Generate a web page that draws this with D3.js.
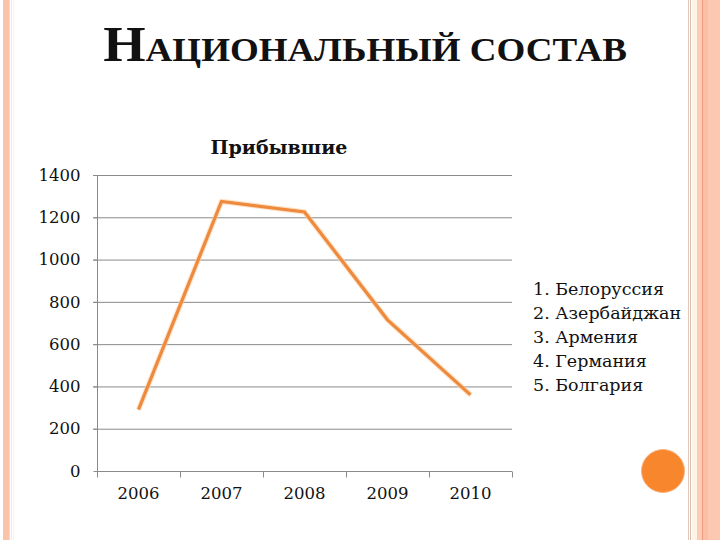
<!DOCTYPE html>
<html><head><meta charset="utf-8">
<script src="https://cdn.jsdelivr.net/npm/d3@7"></script>
<style>body{margin:0;background:#fff;}svg{display:block;}</style>
</head><body>
<script>
const years = ["2006","2007","2008","2009","2010"];
const arrivals = [290, 1275, 1225, 715, 360];
const yTicks = [0,200,400,600,800,1000,1200,1400];
const legendItems = ["1. Белоруссия","2. Азербайджан","3. Армения","4. Германия","5. Болгария"];
const chartTitle = "Прибывшие";

const W=720,H=540;
const svg=d3.select("body").append("svg").attr("width",W).attr("height",H);

// page border stripes
const stripes=[
 {x:3,w:6,c:"#fbc3aa"},{x:9,w:1,c:"#f2d9cc"},{x:11,w:1,c:"#efe6f0"},{x:13,w:1,c:"#fbf3e4"},
 {x:688,w:1,c:"#e2c8bc"},{x:690,w:1,c:"#d9c0b3"},{x:692,w:5,c:"#fdf4e8"},{x:697,w:5,c:"#fbcdb8"},
 {x:702,w:1,c:"#f09a7e"},{x:703,w:5,c:"#fbbfa6"},{x:708,w:12,c:"#fdc8b2"}
];
svg.selectAll("rect.stripe").data(stripes).join("rect").attr("class","stripe")
 .attr("x",d=>d.x).attr("y",0).attr("width",d=>d.w).attr("height",H).attr("fill",d=>d.c);

// main title with small caps, stretched to reference width
const tg=svg.append("g");
const t=tg.append("text").attr("x",0).attr("y",0).attr("text-anchor","middle")
 .attr("font-family","Liberation Serif").attr("font-weight","bold").attr("fill","#111");
t.append("tspan").attr("font-size",50).text("Н");
t.append("tspan").attr("font-size",34).text("АЦИОНАЛЬНЫЙ СОСТАВ");
const tl=t.node().getComputedTextLength();
tg.attr("transform",`translate(365,61) scale(${524/tl},1)`);

const x=d3.scaleBand().domain(years).range([97,512]).padding(0);
const y=d3.scaleLinear().domain([0,1400]).range([471,175]);

// chart title
svg.append("text").attr("x",279).attr("y",154).attr("text-anchor","middle")
 .attr("font-family","DejaVu Serif").attr("font-weight","bold").attr("font-size",19)
 .attr("fill","#111").text(chartTitle);

// gridlines
svg.append("g").selectAll("line").data(yTicks.filter(v=>v>0)).join("line")
 .attr("x1",93).attr("x2",512).attr("y1",d=>y(d)+0.5).attr("y2",d=>y(d)+0.5)
 .attr("stroke","#8a8a8a").attr("stroke-width",1);

// y axis
const ya=svg.append("g").attr("transform","translate(97.5,0)")
 .call(d3.axisLeft(y).tickValues(yTicks).tickSize(4).tickPadding(13).tickFormat(d3.format("d")));
ya.select(".domain").attr("stroke","#8a8a8a").attr("d","M0,175V471.5");
ya.selectAll(".tick line").attr("stroke","#8a8a8a");
ya.selectAll(".tick text").attr("font-family","DejaVu Serif").attr("font-size",16.5).attr("fill","#111");

// x axis
const xa=svg.append("g").attr("transform","translate(0,471.5)")
 .call(d3.axisBottom(x).tickSize(0).tickPadding(16));
xa.select(".domain").attr("stroke","#8a8a8a").attr("d","M97,0H512");
xa.selectAll(".tick text").attr("font-family","DejaVu Serif").attr("font-size",16.5).attr("fill","#111");
const bounds=years.map(d=>x(d)).concat([x(years[years.length-1])+x.bandwidth()]);
xa.append("g").selectAll("line").data(bounds).join("line")
 .attr("x1",d=>Math.round(d)+0.5).attr("x2",d=>Math.round(d)+0.5).attr("y1",0).attr("y2",6)
 .attr("stroke","#8a8a8a");

// line
const line=d3.line().x((d,i)=>x(years[i])+x.bandwidth()/2).y(d=>y(d));
svg.append("path").datum(arrivals).attr("d",line).attr("fill","none")
 .attr("stroke","#fbd2a8").attr("stroke-width",5.5).attr("stroke-linejoin","round").attr("opacity",0.6);
svg.append("path").datum(arrivals).attr("d",line).attr("fill","none")
 .attr("stroke","#ee8a3e").attr("stroke-width",3.2).attr("stroke-linejoin","miter");

// legend list
svg.append("g").selectAll("text").data(legendItems).join("text")
 .attr("x",533).attr("y",(d,i)=>295+i*24)
 .attr("font-family","DejaVu Serif").attr("font-size",17.5).attr("fill","#111").text(d=>d);

// orange circle
svg.append("circle").attr("cx",663).attr("cy",471).attr("r",21.5)
 .attr("fill","#f7862d").attr("stroke","#f9b482").attr("stroke-width",1);
</script>
</body></html>
